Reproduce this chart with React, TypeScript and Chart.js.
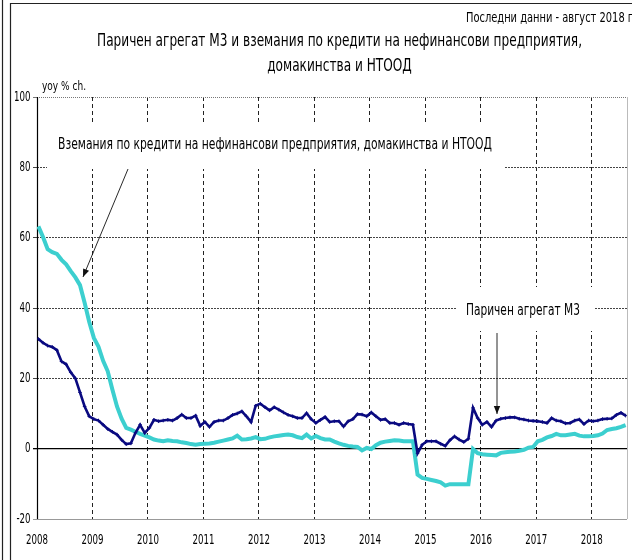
import React, { useEffect, useRef } from 'react';
import { Chart, registerables } from 'chart.js';

Chart.register(...registerables);

// ---- data (monthly, Jan 2008 - Aug 2018, yoy % change) ----
const years = ['2008', '2009', '2010', '2011', '2012', '2013', '2014', '2015', '2016', '2017', '2018'];

const m3Growth = [
  31.2, 30.1, 29.3, 28.9, 28.0, 24.8, 24.0, 21.7, 20.0, 16.0, 12.0, 9.2, // 2008
  8.4, 8.0, 6.8, 5.6, 4.8, 4.0, 2.5, 1.3, 1.5, 4.5, 6.8, 4.5, // 2009
  5.9, 8.2, 7.8, 8.0, 8.2, 8.0, 8.7, 9.7, 8.7, 8.7, 9.4, 6.5, // 2010
  7.6, 6.2, 7.6, 8.0, 8.0, 8.7, 9.6, 10.0, 10.6, 9.2, 7.6, 12.2, // 2011
  12.8, 11.8, 10.9, 11.8, 11.1, 10.3, 9.6, 9.2, 8.7, 8.7, 10.1, 8.4, // 2012
  7.3, 8.2, 9.0, 7.6, 7.8, 7.8, 6.3, 7.8, 8.4, 9.8, 9.7, 9.2, // 2013
  10.3, 9.2, 8.2, 8.4, 7.3, 7.3, 6.8, 7.3, 7.0, 6.8, -1.3, 1.1, // 2014
  2.1, 2.1, 2.1, 1.4, 0.8, 2.4, 3.5, 2.6, 1.9, 2.8, 11.6, 8.7, // 2015
  6.8, 7.6, 6.2, 8.0, 8.5, 8.7, 8.9, 8.9, 8.5, 8.3, 8.0, 7.9, // 2016
  7.8, 7.6, 7.3, 8.7, 8.0, 7.8, 7.2, 7.3, 8.0, 8.3, 7.0, 8.0, // 2017
  7.8, 8.0, 8.4, 8.5, 8.6, 9.6, 10.2, 9.4, // 2018
];

const creditGrowth = [
  63.2, 60.2, 56.7, 55.9, 55.4, 53.7, 52.4, 50.5, 48.7, 46.5, 41.5, 36.0, // 2008
  31.5, 29.0, 25.0, 22.0, 16.8, 12.0, 8.5, 5.9, 5.4, 4.8, 4.2, 3.7, // 2009
  3.2, 2.6, 2.3, 2.1, 2.4, 2.2, 2.1, 1.8, 1.6, 1.3, 1.1, 1.3, // 2010
  1.4, 1.5, 1.7, 2.0, 2.3, 2.6, 2.9, 3.7, 2.6, 2.7, 2.9, 3.3, // 2011
  2.7, 2.8, 3.2, 3.5, 3.7, 3.9, 4.0, 3.8, 3.3, 3.0, 4.0, 2.9, // 2012
  3.6, 3.0, 2.6, 2.6, 2.0, 1.5, 1.1, 0.8, 0.6, 0.5, -0.5, 0.2, // 2013
  -0.1, 1.0, 1.7, 2.0, 2.2, 2.4, 2.3, 2.1, 2.1, 2.1, -7.4, -8.3, // 2014
  -8.6, -8.9, -9.2, -9.6, -10.5, -10.1, -10.1, -10.1, -10.1, -10.1, -0.1, -1.3, // 2015
  -1.6, -1.7, -1.8, -1.9, -1.2, -1.0, -0.9, -0.8, -0.6, -0.3, 0.3, 0.5, // 2016
  2.1, 2.5, 3.2, 3.6, 4.2, 3.8, 3.8, 4.0, 4.2, 3.7, 3.5, 3.5, // 2017
  3.6, 3.8, 4.3, 5.3, 5.6, 5.8, 6.2, 6.7, // 2018
];

const yMin = -20;
const yMax = 100;
const yStep = 20;

const titleLine1 = 'Паричен агрегат М3 и вземания по кредити на нефинансови предприятия,';
const titleLine2 = 'домакинства и НТООД';
const noteText = 'Последни данни - август 2018 г';
const unitText = 'yoy % ch.';
const creditLabel = 'Вземания по кредити на нефинансови предприятия, домакинства и НТООД';
const m3Label = 'Паричен агрегат М3';

// ---- style ----
const FONT = "'Liberation Sans Narrow', 'DejaVu Sans Condensed', 'Arial Narrow', 'Liberation Sans', sans-serif";
const M3_COLOR = '#0a0a80';
const CREDIT_COLOR = '#3ccfcf';
const POINT_OFFSET = 0.3; // points sit slightly right of the year gridline

// draw text squeezed horizontally to a target width (mimics a narrow font)
function drawFit(
  ctx: CanvasRenderingContext2D,
  text: string,
  x: number,
  y: number,
  size: number,
  width: number,
  align: CanvasTextAlign,
) {
  ctx.font = `${size}px ${FONT}`;
  const w = ctx.measureText(text).width;
  const sx = width / w;
  ctx.save();
  ctx.translate(x, y);
  ctx.scale(sx, 1);
  ctx.textAlign = align;
  ctx.textBaseline = 'middle';
  ctx.fillText(text, 0, 0);
  ctx.restore();
}

function drawScaled(
  ctx: CanvasRenderingContext2D,
  text: string,
  x: number,
  y: number,
  size: number,
  sx: number,
  align: CanvasTextAlign,
) {
  ctx.font = `${size}px ${FONT}`;
  ctx.save();
  ctx.translate(x, y);
  ctx.scale(sx, 1);
  ctx.textAlign = align;
  ctx.textBaseline = 'middle';
  ctx.fillText(text, 0, 0);
  ctx.restore();
}

function drawArrow(ctx: CanvasRenderingContext2D, x1: number, y1: number, x2: number, y2: number) {
  ctx.beginPath();
  ctx.moveTo(x1, y1);
  ctx.lineTo(x2, y2);
  ctx.stroke();
  const a = Math.atan2(y2 - y1, x2 - x1);
  const len = 8;
  const half = 3.2;
  ctx.beginPath();
  ctx.moveTo(x2, y2);
  ctx.lineTo(x2 - len * Math.cos(a) + half * Math.sin(a), y2 - len * Math.sin(a) - half * Math.cos(a));
  ctx.lineTo(x2 - len * Math.cos(a) - half * Math.sin(a), y2 - len * Math.sin(a) + half * Math.cos(a));
  ctx.closePath();
  ctx.fill();
}

const TICK_SIZE = 14.5;

const decorPlugin = {
  id: 'decor',
  beforeDatasetsDraw(chart: any) {
    const ctx: CanvasRenderingContext2D = chart.ctx;
    const { left, top, bottom } = chart.chartArea;
    ctx.save();
    // white label boxes that hide the grid behind the annotations
    ctx.fillStyle = '#ffffff';
    ctx.fillRect(47, 123, 457, 46);
    ctx.fillRect(457, 287, 138, 44);
    // y axis line
    ctx.strokeStyle = '#000';
    ctx.lineWidth = 1.2;
    ctx.beginPath();
    ctx.moveTo(left + 0.5, top);
    ctx.lineTo(left + 0.5, bottom);
    ctx.stroke();
    ctx.restore();
  },
  afterDraw(chart: any) {
    const ctx: CanvasRenderingContext2D = chart.ctx;
    ctx.save();
    ctx.fillStyle = '#000';

    // title
    ctx.font = `17px ${FONT}`;
    const tScale = 485 / ctx.measureText(titleLine1).width;
    drawScaled(ctx, titleLine1, 339.5, 42, 17, tScale, 'center');
    drawScaled(ctx, titleLine2, 339.5, 67, 17, tScale, 'center');

    // note top right
    drawFit(ctx, noteText, 466, 18, 14, 167, 'left');

    // unit
    drawFit(ctx, unitText, 42, 87, 11.5, 44, 'left');

    // annotations
    drawFit(ctx, creditLabel, 58, 145, 15.5, 434, 'left');
    drawFit(ctx, m3Label, 466, 311, 15.5, 114, 'left');

    // tick labels (drawn from the chart's own scales)
    ctx.font = `${TICK_SIZE}px ${FONT}`;
    const dScale = 22 / ctx.measureText('2008').width;
    const xs = chart.scales.x;
    xs.ticks.forEach((t: any, i: number) => {
      drawScaled(ctx, years[i], xs.getPixelForValue(t.value), 540, TICK_SIZE, dScale, 'center');
    });
    const ys = chart.scales.y;
    ys.ticks.forEach((t: any) => {
      drawScaled(ctx, String(t.value), 30.5, ys.getPixelForValue(t.value), TICK_SIZE, dScale, 'right');
    });

    // arrows
    ctx.strokeStyle = '#111';
    ctx.fillStyle = '#111';
    ctx.lineWidth = 0.9;
    drawArrow(ctx, 128, 169, 83, 277);
    drawArrow(ctx, 497, 333, 497, 414);

    // frame
    ctx.strokeStyle = '#222';
    ctx.lineWidth = 1.2;
    ctx.beginPath();
    ctx.moveTo(2.5, 0);
    ctx.lineTo(2.5, 560);
    ctx.moveTo(10.5, 560);
    ctx.lineTo(10.5, 3.5);
    ctx.lineTo(632, 3.5);
    ctx.stroke();
    // right edge of plot
    const { right, top, bottom } = chart.chartArea;
    ctx.strokeStyle = '#bbb';
    ctx.lineWidth = 1;
    ctx.beginPath();
    ctx.moveTo(right + 0.5, top);
    ctx.lineTo(right + 0.5, bottom);
    ctx.stroke();
    ctx.restore();
  },
};

export default function App() {
  const canvasRef = useRef<HTMLCanvasElement | null>(null);

  useEffect(() => {
    if (!canvasRef.current) return;
    const m3Points = m3Growth.map((v, i) => ({ x: i, y: v }));
    const creditPoints = creditGrowth.map((v, i) => ({ x: i, y: v }));
    const lastIndex = m3Growth.length - 1;

    const chart = new Chart(canvasRef.current, {
      type: 'line',
      data: {
        datasets: [
          {
            label: m3Label,
            data: m3Points,
            borderColor: M3_COLOR,
            backgroundColor: M3_COLOR,
            borderWidth: 2.6,
            pointStyle: 'cross',
            pointRadius: 1.8,
            pointBorderWidth: 1,
            pointBorderColor: M3_COLOR,
            tension: 0,
          },
          {
            label: creditLabel,
            data: creditPoints,
            borderColor: CREDIT_COLOR,
            backgroundColor: CREDIT_COLOR,
            borderWidth: 4,
            pointRadius: 0,
            tension: 0,
          },
        ],
      },
      plugins: [decorPlugin],
      options: {
        responsive: false,
        animation: false,
        devicePixelRatio: 1,
        layout: { padding: { left: 0, right: 2, top: 97, bottom: 0 } },
        plugins: {
          legend: { display: false },
          title: { display: false },
          tooltip: { enabled: false },
        },
        scales: {
          x: {
            type: 'linear',
            min: -POINT_OFFSET,
            max: lastIndex + POINT_OFFSET,
            afterBuildTicks: (scale: any) => {
              scale.ticks = years.map((_, k) => ({ value: k * 12 - POINT_OFFSET }));
            },
            afterFit: (scale: any) => {
              scale.height = 41;
            },
            ticks: { display: false, autoSkip: false },
            grid: {
              drawTicks: false,
              color: '#222',
              lineWidth: 1,
            },
            border: { display: false, dash: [4, 3] },
          },
          y: {
            min: yMin,
            max: yMax,
            afterFit: (scale: any) => {
              scale.width = 37;
            },
            ticks: { stepSize: yStep, display: false },
            grid: {
              tickLength: 4,
              lineWidth: (c: any) => (c.tick && c.tick.value === 0 ? 1.3 : 1),
              color: (c: any) => {
                const v = c.tick ? c.tick.value : null;
                if (v === 0) return '#000';
                if (v === yMin) return '#999';
                if (v === yMax) return '#777';
                return '#444';
              },
            },
            border: {
              display: false,
              dash: (c: any) => {
                const v = c.tick ? c.tick.value : null;
                if (v === 0 || v === yMin) return [];
                if (v === yMax) return [1, 1];
                return [2, 1];
              },
            },
          },
        },
      } as any,
    });

    return () => {
      chart.destroy();
    };
  }, []);

  return (
    <div style={{ position: 'fixed', left: 0, top: 0, width: 632, height: 560, background: '#fff' }}>
      <canvas ref={canvasRef} width={632} height={560} style={{ display: 'block', width: 632, height: 560 }} />
    </div>
  );
}
